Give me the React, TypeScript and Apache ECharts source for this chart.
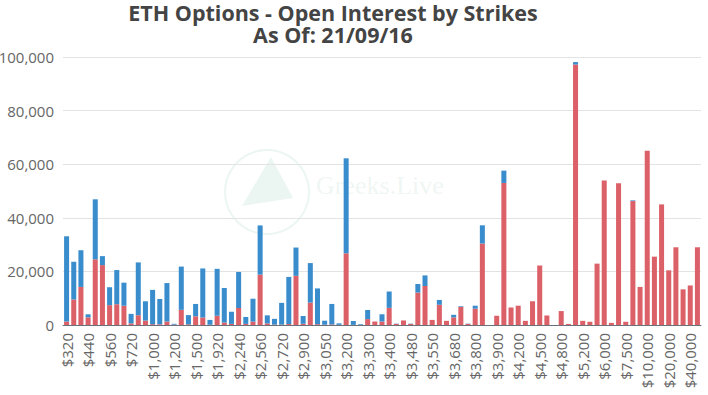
import React, { useEffect, useRef } from "react";
import * as echarts from "echarts";

const strikes: string[] = [
  "$320", "$360", "$400", "$440", "$480", "$520", "$560", "$600", "$640", "$720",
  "$800", "$880", "$1,000", "$1,040", "$1,120", "$1,200", "$1,280", "$1,360", "$1,500", "$1,600",
  "$1,760", "$1,920", "$2,000", "$2,080", "$2,240", "$2,400", "$2,480", "$2,560", "$2,600", "$2,640",
  "$2,720", "$2,760", "$2,800", "$2,900", "$2,950", "$3,000", "$3,050", "$3,100", "$3,150", "$3,200",
  "$3,240", "$3,250", "$3,300", "$3,320", "$3,350", "$3,400", "$3,440", "$3,450", "$3,480", "$3,500",
  "$3,520", "$3,550", "$3,600", "$3,640", "$3,680", "$3,700", "$3,750", "$3,800", "$3,850", "$3,880",
  "$3,900", "$4,000", "$4,100", "$4,200", "$4,300", "$4,400", "$4,500", "$4,600", "$4,700", "$4,800",
  "$4,900", "$5,000", "$5,200", "$5,400", "$5,500", "$6,000", "$6,400", "$7,000", "$7,500", "$8,000",
  "$9,000", "$10,000", "$12,000", "$15,000", "$20,000", "$25,000", "$30,000", "$40,000", "$50,000",
];

// red (bottom) series
const callsOI: number[] = [
  1300, 9500, 14200, 2850, 24500, 22350, 7400, 7750, 7200, 600,
  3650, 1650, 300, 250, 1300, 150, 5650, 250, 3250, 2800,
  100, 3450, 900, 400, 6350, 400, 1250, 18800, 600, 150,
  150, 350, 18350, 450, 8350, 300, 100, 200, 50, 26750,
  50, 50, 2200, 1300, 1300, 6400, 400, 1700, 400, 12100,
  14550, 1900, 7550, 1550, 2850, 6750, 400, 6100, 30400, 0,
  3450, 53000, 6550, 7200, 1550, 8870, 22200, 3550, 0, 5200,
  400, 97200, 1550, 1200, 22900, 53900, 800, 52900, 1200, 46250,
  14200, 65000, 25500, 45000, 20400, 29000, 13300, 14750, 29000,
];

// blue (top) series
const putsOI: number[] = [
  31800, 14100, 13700, 1150, 22400, 3350, 6700, 12750, 8600, 3550,
  19700, 7200, 12800, 9450, 14350, 300, 16150, 3450, 4600, 18300,
  1800, 17500, 12900, 4550, 13450, 2600, 8550, 18350, 3000, 2150,
  8100, 17600, 10550, 2900, 14750, 13350, 1500, 7650, 570, 35450,
  1450, 250, 3400, 0, 2700, 6100, 100, 0, 100, 3200,
  3950, 0, 1800, 0, 950, 250, 100, 1100, 6800, 0,
  0, 4600, 0, 0, 0, 0, 0, 0, 0, 0,
  0, 900, 0, 0, 0, 0, 0, 0, 0, 250,
  0, 0, 0, 0, 0, 0, 0, 0, 0,
];

const titleLine1 = "ETH Options - Open Interest by Strikes";
const titleLine2 = "As Of: 21/09/16";
const watermarkText = "Greeks.Live";

export default function App() {
  const ref = useRef<HTMLDivElement>(null);
  useEffect(() => {
    if (!ref.current) return;
    const chart = echarts.init(ref.current, undefined, { renderer: "svg" });
    const font = "'Open Sans', 'Noto Sans', sans-serif";
    const titleStyle = {
      fontFamily: font,
      fontSize: 21.5,
      fontWeight: "bold",
      color: "#444444",
      lineHeight: 20,
    };
    chart.setOption({
      animation: false,
      backgroundColor: "#ffffff",
      title: {
        text: titleLine1,
        subtext: titleLine2,
        left: 333,
        top: 2,
        padding: 0,
        itemGap: 0,
        textAlign: "center",
        textStyle: titleStyle,
        subtextStyle: titleStyle,
      },
      graphic: [
        {
          type: "group",
          silent: true,
          z: -1,
          children: [
            {
              type: "circle",
              shape: { cx: 267, cy: 192, r: 42 },
              style: { fill: "none", stroke: "rgba(190,225,212,0.3)", lineWidth: 2 },
            },
            {
              type: "polygon",
              shape: { points: [[271, 157], [242, 206], [293, 198]] },
              style: { fill: "rgba(190,225,212,0.3)" },
            },
            {
              type: "text",
              x: 316,
              y: 198,
              style: {
                text: watermarkText,
                font: "26px 'Liberation Serif', serif",
                fill: "rgba(200,225,215,0.3)",
                textVerticalAlign: "bottom",
              },
            },
          ],
        },
      ],
      grid: {
        left: 63,
        right: 7,
        top: 57,
        bottom: 70,
        containLabel: false,
        outerBoundsMode: "none",
      },
      xAxis: {
        type: "category",
        data: strikes,
        axisLine: { lineStyle: { color: "#6E7079" } },
        axisTick: { interval: 2, lineStyle: { color: "#6E7079" } },
        axisLabel: {
          interval: 2,
          rotate: 90,
          fontFamily: font,
          fontSize: 15,
          color: "#666666",
          margin: 8,
        },
      },
      yAxis: {
        type: "value",
        min: 0,
        max: 100000,
        interval: 20000,
        axisLine: { show: false },
        axisTick: { show: false },
        splitLine: { lineStyle: { color: "#e3e3e3" } },
        axisLabel: {
          fontFamily: font,
          fontSize: 15,
          color: "#666666",
          margin: 9,
        },
      },
      series: [
        {
          name: "Calls",
          type: "bar",
          stack: "oi",
          data: callsOI,
          barCategoryGap: "30%",
          itemStyle: { color: "#dc6068" },
        },
        {
          name: "Puts",
          type: "bar",
          stack: "oi",
          data: putsOI,
          barCategoryGap: "30%",
          itemStyle: { color: "#3a8dcd" },
        },
      ],
    });
    return () => chart.dispose();
  }, []);
  return (
    <div
      ref={ref}
      style={{ position: "fixed", left: 0, top: 0, width: 708, height: 395 }}
    />
  );
}
